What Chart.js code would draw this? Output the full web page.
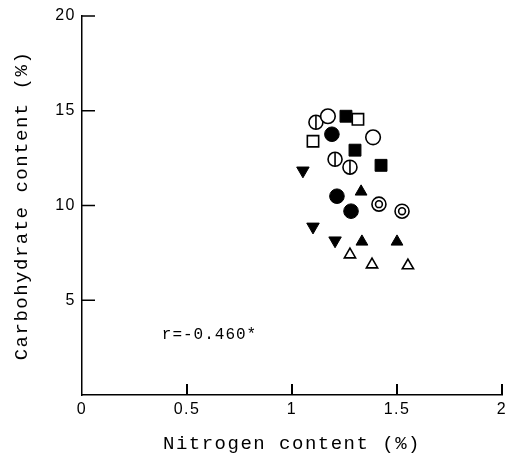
<!DOCTYPE html>
<html>
<head>
<meta charset="utf-8">
<script src="https://cdn.jsdelivr.net/npm/chart.js@4/dist/chart.umd.min.js"></script>
<style>
  html, body { margin: 0; padding: 0; background: #ffffff; }
  #wrap { width: 512px; height: 458px; }
</style>
</head>
<body>
<div id="wrap"><canvas id="c" width="512" height="458"></canvas></div>
<script>
// ---- data ----
const xTickValues = [0, 0.5, 1, 1.5, 2];
const yTickValues = [5, 10, 15, 20];
const xTitle = 'Nitrogen content (%)';
const yTitle = 'Carbohydrate content (%)';
const corrText = 'r=-0.460*';
const corrPos = [0.38, 3.2];

const openCircleX = [1.171, 1.386];
const openCircleY = [14.71, 13.60];
const halfCircleX = [1.114, 1.205, 1.276];
const halfCircleY = [14.39, 12.44, 12.02];
const filledSquareX = [1.257, 1.300, 1.424];
const filledSquareY = [14.71, 12.92, 12.12];
const openSquareX = [1.314, 1.100];
const openSquareY = [14.55, 13.39];
const filledCircleX = [1.190, 1.214, 1.281];
const filledCircleY = [13.76, 10.49, 9.70];
const doubleCircleX = [1.414, 1.524];
const doubleCircleY = [10.07, 9.70];
const filledDownX = [1.052, 1.100, 1.205];
const filledDownY = [11.84, 8.88, 8.15];
const filledUpX = [1.329, 1.333, 1.500];
const filledUpY = [10.73, 8.09, 8.09];
const openUpX = [1.276, 1.381, 1.552];
const openUpY = [7.41, 6.88, 6.83];

function pts(xs, ys) { return xs.map((x, i) => ({ x: x, y: ys[i] })); }

const BLACK = '#000000';
const WHITE = '#ffffff';
const BW = 1.6;

function ds(xs, ys, style, radius, fill, border, extra) {
  return Object.assign({
    data: pts(xs, ys),
    pointStyle: style,
    pointRadius: radius,
    pointBackgroundColor: fill,
    pointBorderColor: BLACK,
    pointBorderWidth: border,
    showLine: false
  }, extra || {});
}

// listed bottom-most first; Chart.js paints dataset 0 on top, so reverse
const datasets = [
  ds(openUpX, openUpY, 'triangle', 6.5, WHITE, BW),
  ds(filledUpX, filledUpY, 'triangle', 6.8, BLACK, 1),
  ds(filledDownX, filledDownY, 'triangle', 7.2, BLACK, 1, { pointRotation: 180 }),
  ds(doubleCircleX, doubleCircleY, 'circle', 7, WHITE, BW),
  ds(doubleCircleX, doubleCircleY, 'circle', 3.4, WHITE, BW),
  ds(filledCircleX, filledCircleY, 'circle', 7.3, BLACK, 1),
  ds(openSquareX, openSquareY, 'rect', 8, WHITE, BW),
  ds(filledSquareX, filledSquareY, 'rect', 8.4, BLACK, 1),
  ds(halfCircleX, halfCircleY, 'circle', 7, WHITE, BW),
  ds(halfCircleX, halfCircleY, 'line', 7, WHITE, BW, { pointRotation: 90 }),
  ds(openCircleX, openCircleY, 'circle', 7.3, WHITE, BW)
].reverse();

const spacingPlugin = {
  id: 'spacing',
  beforeDraw(chart) {
    chart.ctx.letterSpacing = '1.5px';
  }
};

const inwardTicks = {
  id: 'inwardTicks',
  afterDraw(chart) {
    const ctx = chart.ctx;
    const xs = chart.scales.x, ys = chart.scales.y;
    const left = xs.getPixelForValue(0);
    const bottom = ys.getPixelForValue(0);
    ctx.save();
    ctx.globalAlpha = 1;
    ctx.globalCompositeOperation = 'source-over';
    ctx.fillStyle = BLACK;
    yTickValues.forEach(v => {
      const py = ys.getPixelForValue(v);
      ctx.fillRect(left, py - 0.75, 13, 1.5);
    });
    xTickValues.forEach(v => {
      if (v === 0) return;
      const px = xs.getPixelForValue(v);
      ctx.fillRect(px - 1, bottom - 11, 2, 11);
    });
    // correlation annotation
    ctx.letterSpacing = '1px';
    ctx.font = '16px "Liberation Mono", monospace';
    ctx.textAlign = 'left';
    ctx.textBaseline = 'middle';
    ctx.fillText(corrText, xs.getPixelForValue(corrPos[0]), ys.getPixelForValue(corrPos[1]));
    ctx.restore();
  }
};

new Chart(document.getElementById('c'), {
  type: 'scatter',
  data: { datasets: datasets },
  plugins: [spacingPlugin, inwardTicks],
  options: {
    responsive: false,
    animation: false,
    devicePixelRatio: 1,
    events: [],
    layout: { padding: { left: 0, right: 10, top: 16, bottom: 0 } },
    plugins: { legend: { display: false }, tooltip: { enabled: false } },
    scales: {
      x: {
        type: 'linear',
        position: 'bottom',
        min: 0, max: 2,
        afterBuildTicks: s => { s.ticks = xTickValues.map(v => ({ value: v })); },
        afterFit: s => { s.height = 63; },
        grid: { display: false, drawTicks: false },
        border: { display: true, color: BLACK, width: 1.5 },
        ticks: {
          color: BLACK,
          padding: 5,
          maxRotation: 0,
          autoSkip: false,
          font: { family: '"Liberation Sans", Arial, sans-serif', size: 16 },
          callback: v => String(v)
        },
        title: {
          display: true,
          text: xTitle,
          color: BLACK,
          font: { family: '"Liberation Mono", monospace', size: 19 },
          padding: { top: 0, bottom: 3 }
        }
      },
      y: {
        type: 'linear',
        position: 'left',
        min: 0, max: 20,
        afterBuildTicks: s => { s.ticks = yTickValues.map(v => ({ value: v })); },
        afterFit: s => { s.width = 82; },
        grid: { display: false, drawTicks: false },
        border: { display: true, color: BLACK, width: 1.5 },
        ticks: {
          color: BLACK,
          padding: 6,
          autoSkip: false,
          font: { family: '"Liberation Sans", Arial, sans-serif', size: 16 },
          callback: v => String(v)
        },
        title: {
          display: true,
          text: yTitle,
          color: BLACK,
          font: { family: '"Liberation Mono", monospace', size: 19 },
          padding: { top: 11, bottom: 0 }
        }
      }
    }
  }
});
</script>
</body>
</html>
